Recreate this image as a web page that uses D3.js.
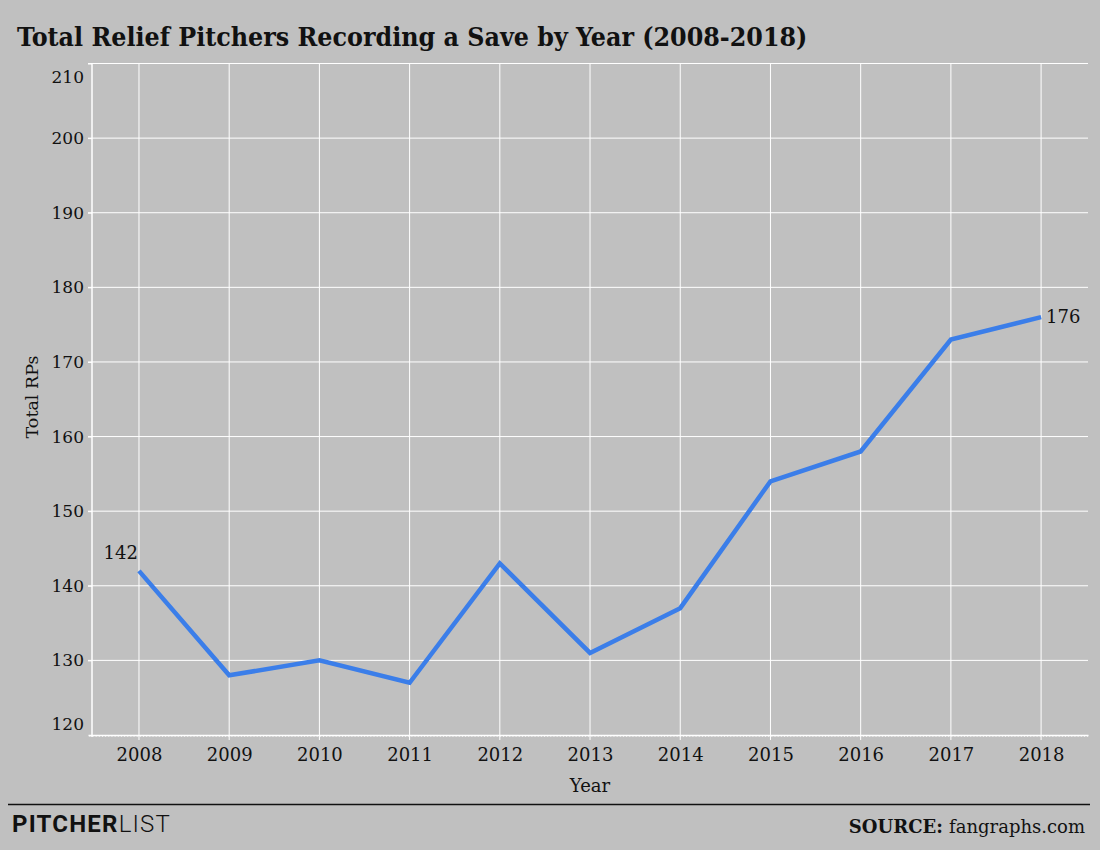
<!DOCTYPE html>
<html lang="en">
  <head>
    <meta charset="utf-8">
    <title>Total Relief Pitchers Recording a Save by Year</title>

    <!-- Load d3.js -->
    <script src="https://d3js.org/d3.v7.min.js" charset="utf-8"></script>

    <style type="text/css">
      body {
        margin: 0;
        background-color: #c0c0c0;
      }
      svg text {
        font-family: "DejaVu Serif", serif;
        fill: #111;
      }
      .grid line {
        stroke: #fff;
        stroke-width: 1;
      }
      .axis path, .axis line {
        stroke: #fff;
      }
      .axis text {
        font-size: 17px;
        fill: #111;
      }
      .xaxis text {
        font-size: 18px;
      }
    </style>
  </head>
  <body>

    <svg id="chart" width="1100" height="850"></svg>

    <script type="text/javascript">

      // data
      var years = [2008, 2009, 2010, 2011, 2012, 2013, 2014, 2015, 2016, 2017, 2018];
      var totalRPs = [142, 128, 130, 127, 143, 131, 137, 154, 158, 173, 176];
      var yTicks = [120, 130, 140, 150, 160, 170, 180, 190, 200, 210];
      var labelledYears = [2008, 2018];

      var svg = d3.select("#chart");

      // plot box (not "top": window.top is taken)
      var plotLeft = 88, plotRight = 1088, plotTop = 63.5, plotBottom = 735;

      var x = d3.scaleLinear()
          .domain([2007.435, 2018.52])
          .range([plotLeft, plotRight]);

      var y = d3.scaleLinear()
          .domain([120, 210])
          .range([plotBottom, plotTop]);

      // title
      svg.append("text")
          .attr("x", 17)
          .attr("y", 46)
          .style("font-size", "26.5px")
          .style("font-weight", "bold")
          .style("font-stretch", "condensed")
          .text("Total Relief Pitchers Recording a Save by Year (2008-2018)");

      // horizontal grid
      svg.append("g")
          .attr("class", "grid")
          .selectAll("line")
          .data(yTicks.slice(1))
          .enter().append("line")
          .attr("x1", plotLeft)
          .attr("x2", plotRight)
          .attr("y1", function(d) { return y(d); })
          .attr("y2", function(d) { return y(d); });

      // vertical grid
      svg.append("g")
          .attr("class", "grid")
          .selectAll("line")
          .data(years)
          .enter().append("line")
          .attr("x1", function(d) { return x(d); })
          .attr("x2", function(d) { return x(d); })
          .attr("y1", plotTop)
          .attr("y2", plotBottom + 5);

      // minor ticks under the x axis
      svg.append("g")
          .attr("class", "axis")
          .attr("transform", "translate(0," + plotBottom + ")")
          .call(d3.axisBottom(x)
              .tickValues(d3.range(2007.45, 2018.52, 0.035))
              .tickSize(2)
              .tickFormat(""))
          .call(function(g) { g.select(".domain").remove(); })
          .selectAll("line").attr("stroke-opacity", 0.7);

      // x axis
      svg.append("g")
          .attr("class", "axis xaxis")
          .attr("transform", "translate(0," + plotBottom + ")")
          .call(d3.axisBottom(x)
              .tickValues(years)
              .tickFormat(d3.format("d"))
              .tickSizeInner(0)
              .tickSizeOuter(0)
              .tickPadding(13))
          .call(function(g) { g.select(".domain").attr("stroke-width", 1.5); });

      // y axis
      svg.append("g")
          .attr("class", "axis")
          .attr("transform", "translate(92,0)")
          .call(d3.axisLeft(y)
              .tickValues(yTicks)
              .tickSize(4)
              .tickSizeOuter(0)
              .tickPadding(4))
          .call(function(g) {
            g.select(".domain").attr("d", "M0," + plotTop + "V" + (plotBottom + 2)).attr("stroke-width", 1.5);
            // edge labels sit inside the box
            g.selectAll(".tick text")
                .attr("dy", function(d) {
                  if (d == 120) return "-0.35em";
                  if (d == 210) return "1.1em";
                  return "0.32em";
                });
            g.selectAll(".tick").filter(function(d) { return d == 120; }).select("line").remove();
          });

      // axis titles
      svg.append("text")
          .attr("x", 590)
          .attr("y", 792)
          .attr("text-anchor", "middle")
          .style("font-size", "18px")
          .text("Year");

      svg.append("text")
          .attr("transform", "translate(38,397) rotate(-90)")
          .attr("text-anchor", "middle")
          .style("font-size", "17.5px")
          .text("Total RPs");

      // the line
      var line = d3.line()
          .x(function(d, i) { return x(years[i]); })
          .y(function(d) { return y(d); });

      svg.append("path")
          .datum(totalRPs)
          .attr("fill", "none")
          .attr("stroke", "#3b7ee9")
          .attr("stroke-width", 4.5)
          .attr("stroke-linejoin", "miter")
          .attr("d", line);

      // end labels
      svg.selectAll(".val")
          .data(labelledYears)
          .enter().append("text")
          .attr("class", "val")
          .attr("x", function(d) { return d == 2008 ? x(d) - 1 : x(d) + 5; })
          .attr("y", function(d) {
            var v = totalRPs[years.indexOf(d)];
            return d == 2008 ? y(v) - 12 : y(v) + 6;
          })
          .attr("text-anchor", function(d) { return d == 2008 ? "end" : "start"; })
          .style("font-size", "18px")
          .text(function(d) { return totalRPs[years.indexOf(d)]; });

      // footer
      svg.append("line")
          .attr("x1", 8)
          .attr("x2", 1090)
          .attr("y1", 804.5)
          .attr("y2", 804.5)
          .attr("stroke", "#111")
          .attr("stroke-width", 1.3);

      var logo = svg.append("text")
          .attr("x", 12)
          .attr("y", 832)
          .style("font-family", "Roboto, sans-serif")
          .style("font-size", "24px")
          .style("letter-spacing", "1.2px");
      logo.append("tspan").style("font-weight", "bold").text("PITCHER");
      logo.append("tspan").style("font-weight", "300").text("LIST");

      var src = svg.append("text")
          .attr("x", 1085)
          .attr("y", 833)
          .attr("text-anchor", "end")
          .style("font-size", "18px");
      src.append("tspan").style("font-weight", "bold").text("SOURCE: ");
      src.append("tspan").text("fangraphs.com");

    </script>

  </body>
</html>
